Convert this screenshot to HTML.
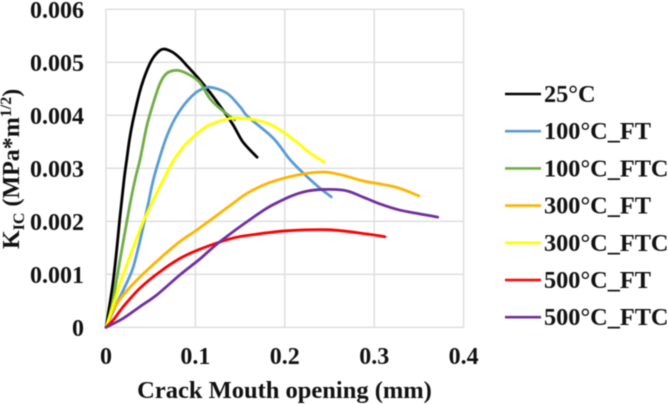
<!DOCTYPE html>
<html>
<head>
<meta charset="utf-8">
<style>
html,body{margin:0;padding:0;background:#fff;width:668px;height:404px;overflow:hidden}
svg{display:block;filter:blur(0.45px)}
text{font-family:"Liberation Serif",serif;font-weight:bold;fill:#111}
</style>
</head>
<body>
<svg id="chart" xmlns="http://www.w3.org/2000/svg" width="668" height="404" viewBox="0 0 668 404">
  <g id="grid"></g>
  <g id="ticks"></g>
  <g id="series"></g>
  <g id="legend"></g>
  <text x="284.500" y="398" text-anchor="middle" font-size="24.500">Crack Mouth opening (mm)</text>
  <text transform="translate(19,249) rotate(-90)" font-size="24">K<tspan font-size="16" dy="5">IC</tspan><tspan dy="-5"> (MPa*m</tspan><tspan font-size="16" dy="-8">1/2</tspan><tspan dy="8">)</tspan></text>
</svg>
<script>
const xTicks = [0, 0.1, 0.2, 0.3, 0.4];
const xTickLabels = ["0", "0.1", "0.2", "0.3", "0.4"];
const yTicks = [0, 0.001, 0.002, 0.003, 0.004, 0.005, 0.006];
const yTickLabels = ["0", "0.001", "0.002", "0.003", "0.004", "0.005", "0.006"];

const seriesNames = ["25°C", "100°C_FT", "100°C_FTC", "300°C_FT", "300°C_FTC", "500°C_FT", "500°C_FTC"];
const seriesColors = ["#000000", "#5b9bd5", "#70ad47", "#ffb400", "#ffff00", "#ff0000", "#7030a0"];

const x25C = [0, 0.0082, 0.0157, 0.0201, 0.0232, 0.0268, 0.0324, 0.0399, 0.0492, 0.0567, 0.0641, 0.0735, 0.0828, 0.0903, 0.1032, 0.12, 0.141, 0.153, 0.169];
const y25C = [0, 0.00089, 0.00209, 0.00278, 0.00316, 0.0036, 0.00407, 0.00457, 0.00498, 0.00517, 0.00525, 0.0052, 0.00508, 0.00494, 0.0047, 0.00435, 0.00385, 0.0035, 0.00321];

const x100FT = [0, 0.012, 0.0213, 0.0305, 0.0399, 0.0473, 0.0529, 0.0604, 0.0679, 0.0772, 0.0865, 0.0959, 0.1044, 0.116, 0.135, 0.15, 0.159, 0.187, 0.206, 0.225, 0.239, 0.252];
const y100FT = [0, 0.00045, 0.00077, 0.00114, 0.00177, 0.00234, 0.00278, 0.00322, 0.0036, 0.00394, 0.00418, 0.00436, 0.00447, 0.00453, 0.00442, 0.00416, 0.00397, 0.00357, 0.00316, 0.00284, 0.00263, 0.00246];

const x100FTC = [0, 0.0064, 0.0157, 0.0249, 0.0324, 0.038, 0.0455, 0.0529, 0.0604, 0.0679, 0.0791, 0.0903, 0.1044, 0.116, 0.1275, 0.144];
const y100FTC = [0, 0.00039, 0.00127, 0.00215, 0.00278, 0.00316, 0.00379, 0.00423, 0.0046, 0.00479, 0.00485, 0.00479, 0.00463, 0.00432, 0.00413, 0.00391];

const x300FT = [0, 0.0082, 0.0194, 0.038, 0.0604, 0.0828, 0.1044, 0.139, 0.158, 0.183, 0.213, 0.243, 0.265, 0.288, 0.323, 0.35];
const y300FT = [0, 0.00033, 0.00061, 0.00095, 0.0013, 0.00162, 0.00187, 0.0023, 0.00253, 0.00273, 0.00287, 0.00293, 0.00287, 0.00276, 0.00265, 0.00248];

const x300FTC = [0, 0.0064, 0.0157, 0.0287, 0.0417, 0.0548, 0.0641, 0.0753, 0.0884, 0.1044, 0.116, 0.139, 0.161, 0.181, 0.195, 0.213, 0.228, 0.244];
const y300FTC = [0, 0.00033, 0.00083, 0.00143, 0.00199, 0.00247, 0.00278, 0.00314, 0.00344, 0.00369, 0.00382, 0.00394, 0.00393, 0.00385, 0.00372, 0.0035, 0.00329, 0.00312];

const x500FT = [0, 0.0082, 0.0194, 0.038, 0.0604, 0.0828, 0.1044, 0.139, 0.161, 0.202, 0.25, 0.292, 0.312];
const y500FT = [0, 0.00014, 0.00039, 0.00074, 0.00105, 0.0013, 0.00147, 0.00167, 0.00174, 0.00182, 0.00184, 0.00176, 0.00171];

const x500FTC = [0, 0.0194, 0.038, 0.0567, 0.0828, 0.1044, 0.127, 0.165, 0.191, 0.225, 0.264, 0.287, 0.306, 0.329, 0.351, 0.371];
const y500FTC = [0, 0.00017, 0.00039, 0.00061, 0.00099, 0.00128, 0.00161, 0.00208, 0.00235, 0.00257, 0.00259, 0.00246, 0.00233, 0.00221, 0.00214, 0.00208];

const seriesX = [x25C, x100FT, x100FTC, x300FT, x300FTC, x500FT, x500FTC];
const seriesY = [y25C, y100FT, y100FTC, y300FT, y300FTC, y500FT, y500FTC];

const NS = "http://www.w3.org/2000/svg";
const sx = function (v) { return 106 + v * 894; };
const sy = function (v) { return 327.3 - v * 53000; };

function make(tag, parent) {
  const el = document.createElementNS(NS, tag);
  parent.appendChild(el);
  return el;
}

function smoothPath(xs, ys) {
  const px = xs.map(sx);
  const py = ys.map(sy);
  let d = "M" + px[0].toFixed(1) + " " + py[0].toFixed(1);
  for (let i = 0; i < px.length - 1; i++) {
    const a = Math.max(i - 1, 0);
    const b = Math.min(i + 2, px.length - 1);
    const c1x = px[i] + (px[i + 1] - px[a]) / 6;
    const c1y = py[i] + (py[i + 1] - py[a]) / 6;
    const c2x = px[i + 1] - (px[b] - px[i]) / 6;
    const c2y = py[i + 1] - (py[b] - py[i]) / 6;
    d += "C" + c1x.toFixed(1) + " " + c1y.toFixed(1) + " " + c2x.toFixed(1) + " " + c2y.toFixed(1) + " " + px[i + 1].toFixed(1) + " " + py[i + 1].toFixed(1);
  }
  return d;
}

const gridG = document.getElementById("grid");
const ticksG = document.getElementById("ticks");
const seriesG = document.getElementById("series");
const legendG = document.getElementById("legend");

xTicks.forEach(function (t, i) {
  const line = make("line", gridG);
  
  
  line.setAttribute("x1", sx(t));
  line.setAttribute("x2", sx(t));
  line.setAttribute("y1", sy(0.006));
  line.setAttribute("y2", sy(0));
  line.setAttribute("stroke", "#dcdcdc");
  line.setAttribute("stroke-width", "1.4");
  const label = make("text", ticksG);
  
  
  label.setAttribute("x", sx(t));
  label.setAttribute("y", 364);
  label.setAttribute("text-anchor", "middle");
  label.setAttribute("font-size", "24");
  label.textContent = xTickLabels[i];
});

yTicks.forEach(function (t, i) {
  const line = make("line", gridG);
  
  
  line.setAttribute("x1", sx(0));
  line.setAttribute("x2", sx(0.4));
  line.setAttribute("y1", sy(t));
  line.setAttribute("y2", sy(t));
  line.setAttribute("stroke", "#dcdcdc");
  line.setAttribute("stroke-width", "1.4");
  const label = make("text", ticksG);
  
  
  label.setAttribute("x", 84);
  label.setAttribute("y", sy(t) + 8.5);
  label.setAttribute("text-anchor", "end");
  label.setAttribute("font-size", "24");
  label.textContent = yTickLabels[i];
});

seriesNames.forEach(function (name, i) {
  const path = make("path", seriesG);
  
  
  path.setAttribute("d", smoothPath(seriesX[i], seriesY[i]));
  path.setAttribute("fill", "none");
  path.setAttribute("stroke", seriesColors[i]);
  path.setAttribute("stroke-width", "2.8");
  path.setAttribute("stroke-linejoin", "round");
  path.setAttribute("stroke-linecap", "round");

  const rowY = 94 + i * 37.2;
  const key = make("line", legendG);
  
  
  key.setAttribute("x1", 505);
  key.setAttribute("x2", 541);
  key.setAttribute("y1", rowY);
  key.setAttribute("y2", rowY);
  key.setAttribute("stroke", seriesColors[i]);
  key.setAttribute("stroke-width", "2.6");
  const entry = make("text", legendG);
  
  
  entry.setAttribute("x", 544);
  entry.setAttribute("y", rowY + 8);
  entry.setAttribute("font-size", "24.300");
  entry.textContent = name;
});
</script>
</body>
</html>
